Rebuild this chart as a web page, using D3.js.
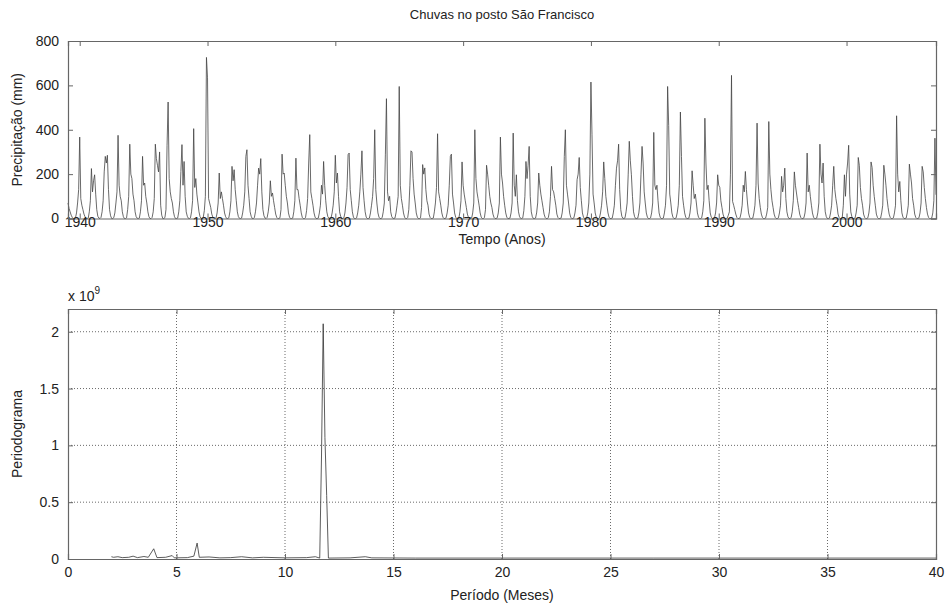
<!DOCTYPE html>
<html>
<head>
<meta charset="utf-8">
<script src="https://cdn.jsdelivr.net/npm/d3@7"></script>
<style>
  body { margin: 0; background: #fff; }
  svg text { font-family: "Liberation Sans", Arial, sans-serif; fill: #222; }
</style>
</head>
<body>
<div id="chart"></div>
<script>
// chuva mensal (mm), jan..dez, 1939-2006
let anos = d3.range(1939, 2007);
let chuva = [
  [70,45,30,15,5,0,0,3,25,70,130,367],
  [90,60,40,20,8,0,0,2,30,80,225,120],
  [170,197,110,40,10,2,0,5,30,80,210,280],
  [250,285,130,40,12,0,0,4,25,70,120,375],
  [150,100,80,30,8,0,0,3,40,100,335,200],
  [180,110,80,30,8,1,0,2,30,80,280,150],
  [160,100,70,30,8,0,0,5,30,90,335,270],
  [240,210,300,60,15,0,0,4,40,330,525,180],
  [120,90,70,30,8,0,0,2,30,80,212,333],
  [150,257,100,30,10,1,0,3,30,80,405,140],
  [180,110,70,30,8,0,0,5,35,100,726,634],
  [90,70,50,20,6,0,0,2,25,70,205,90],
  [120,90,60,25,8,0,0,3,30,80,235,170],
  [220,130,80,30,8,1,0,2,25,60,120,280],
  [310,150,90,30,10,0,0,4,30,70,150,227],
  [200,270,120,40,12,2,0,5,30,70,170,100],
  [115,80,50,20,5,0,0,3,40,290,200,205],
  [150,100,70,25,6,0,0,2,30,80,272,130],
  [130,90,60,25,5,0,0,4,35,90,250,378],
  [120,90,60,25,6,0,0,2,25,60,150,110],
  [257,150,80,30,8,1,0,3,25,60,120,285],
  [160,205,100,30,10,0,0,2,25,70,140,288],
  [295,130,80,30,6,0,0,3,25,60,120,200],
  [305,140,80,30,6,0,0,2,25,60,100,180],
  [400,130,70,25,6,0,0,4,30,70,290,540],
  [120,80,100,30,8,1,0,2,25,60,100,595],
  [150,90,60,25,6,0,0,5,40,150,305,300],
  [180,110,70,25,6,0,0,3,50,243,200,228],
  [130,80,60,20,5,0,0,2,30,70,140,382],
  [120,90,60,25,6,0,0,3,25,60,150,280],
  [290,110,70,25,6,0,0,2,30,80,255,150],
  [110,80,50,20,5,0,0,2,25,70,400,180],
  [120,90,60,25,6,0,0,4,40,240,200,150],
  [100,70,50,20,5,0,0,3,25,70,367,200],
  [160,100,60,25,6,0,0,2,25,70,385,150],
  [100,197,80,30,8,1,0,3,35,100,257,180],
  [240,325,100,30,8,0,0,2,25,70,205,150],
  [110,80,50,20,5,0,0,4,30,100,235,130],
  [120,90,60,20,5,0,0,2,25,70,280,400],
  [150,110,70,25,6,0,0,3,25,60,175,200],
  [275,140,80,25,6,0,0,2,25,70,200,615],
  [380,110,70,25,6,0,0,3,25,60,120,255],
  [180,100,60,25,6,0,0,2,25,60,150,227],
  [260,335,130,40,10,1,0,3,30,70,200,348],
  [260,197,100,30,8,0,0,2,25,70,200,325],
  [250,120,70,25,6,0,0,3,25,70,388,150],
  [130,150,80,25,6,0,0,2,25,60,150,595],
  [420,110,70,25,6,0,0,3,25,60,150,480],
  [280,100,60,25,6,0,0,2,25,70,215,150],
  [90,110,70,25,6,0,0,3,30,80,452,250],
  [130,150,80,25,6,0,0,2,25,70,197,150],
  [140,80,50,20,5,0,0,2,15,30,200,645],
  [77,60,40,20,5,0,0,3,25,60,150,120],
  [212,130,70,25,6,0,0,2,25,60,150,430],
  [160,90,50,20,5,0,0,2,20,50,437,200],
  [130,80,50,20,5,0,0,3,25,60,190,120],
  [150,227,90,30,8,0,0,4,30,80,210,150],
  [115,80,50,20,5,0,0,3,25,70,295,120],
  [150,100,60,25,6,0,0,2,25,70,335,200],
  [160,250,100,30,8,0,0,2,25,60,150,235],
  [130,90,60,20,5,0,0,5,60,197,100,200],
  [250,330,110,30,8,0,0,2,25,60,275,240],
  [140,90,60,20,5,0,0,3,25,70,255,230],
  [150,100,60,20,5,0,0,2,25,60,240,200],
  [150,90,50,20,5,0,0,3,25,60,463,200],
  [120,167,80,25,6,0,0,2,25,60,245,200],
  [160,90,60,20,5,0,0,3,25,70,235,210],
  [140,90,50,20,5,0,0,2,25,80,362,107]
];

// periodograma: periodo (meses) e valor (x 10^9)
let periodos = [2,2.1,2.3,2.5,2.8,3.0,3.2,3.5,3.7,3.95,4.1,4.5,4.8,4.9,5.5,5.8,5.95,6.05,6.5,7,7.5,8,8.5,9,10,11,11.4,11.6,11.68,11.76,11.84,11.92,12.0,13,13.7,14,16,20,27,40];
let potencia = [.02,.015,.02,.012,.015,.025,.012,.022,.015,.09,.012,.015,.03,.01,.012,.025,.14,.015,.018,.01,.012,.02,.01,.015,.01,.012,.02,.008,.88,2.07,1.07,.56,.008,.01,.02,.01,.008,.008,.008,.008];

let yTicksTop = [0,200,400,600,800];
let xTicksTop = [1940,1950,1960,1970,1980,1990,2000];
let xTicksBot = [0,5,10,15,20,25,30,35,40];
let yTicksBot = [0,0.5,1,1.5,2];

let W = 946, H = 605;
let svg = d3.select("#chart").append("svg").attr("width", W).attr("height", H);

let serie = [];
anos.forEach((a, i) => {
    chuva[i].forEach((v, m) => serie.push({t: a + (m + 1) / 12, v: v}));
});

// ---- grafico de cima
let top1 = {l: 68, r: 936, t: 41, b: 218.5};
let x1 = d3.scaleLinear().domain([1939 + 1/12, 2007]).range([top1.l, top1.r]);
let y1 = d3.scaleLinear().domain([0, 800]).range([top1.b, top1.t]);

let g1 = svg.append("g");
g1.append("path")
    .datum(serie)
    .attr("d", d3.line().x(d => x1(d.t)).y(d => y1(d.v)))
    .attr("fill", "none")
    .attr("stroke", "#444")
    .attr("stroke-width", 0.8);

caixa(g1, top1, x1, y1, xTicksTop, yTicksTop, -1);

g1.append("text").attr("x", 502).attr("y", 19).attr("text-anchor", "middle")
    .attr("font-size", 13).text("Chuvas no posto São Francisco");
g1.append("text").attr("x", 502).attr("y", 244).attr("text-anchor", "middle")
    .attr("font-size", 14).text("Tempo (Anos)");
g1.append("text").attr("transform", "translate(22," + (top1.t + top1.b) / 2 + ") rotate(-90)")
    .attr("text-anchor", "middle").attr("font-size", 14).text("Precipitação (mm)");

// ---- periodograma
let bot = {l: 68, r: 936, t: 309, b: 559};
let x2 = d3.scaleLinear().domain([0, 40]).range([bot.l, bot.r]);
let y2 = d3.scaleLinear().domain([0, 2.2]).range([bot.b, bot.t]);

let g2 = svg.append("g");
// grade pontilhada
g2.selectAll(".gx").data(xTicksBot.slice(1, -1)).enter().append("line")
    .attr("x1", d => x2(d)).attr("x2", d => x2(d))
    .attr("y1", bot.t).attr("y2", bot.b)
    .attr("stroke", "#444").attr("stroke-width", 0.8).attr("stroke-dasharray", "1,2");
g2.selectAll(".gy").data(yTicksBot.slice(1)).enter().append("line")
    .attr("x1", bot.l).attr("x2", bot.r)
    .attr("y1", d => y2(d)).attr("y2", d => y2(d))
    .attr("stroke", "#444").attr("stroke-width", 0.8).attr("stroke-dasharray", "1,2");

g2.append("path")
    .datum(periodos.map((p, i) => [p, potencia[i]]))
    .attr("d", d3.line().x(d => x2(d[0])).y(d => y2(d[1])))
    .attr("fill", "none")
    .attr("stroke", "#333")
    .attr("stroke-width", 0.8);

caixa(g2, bot, x2, y2, xTicksBot, yTicksBot, 8);

let exp = g2.append("text").attr("x", 68).attr("y", 301).attr("font-size", 14);
exp.append("tspan").text("x 10");
exp.append("tspan").attr("dy", -7).attr("font-size", 10).text("9");

g2.append("text").attr("x", 502).attr("y", 600).attr("text-anchor", "middle")
    .attr("font-size", 14).text("Período (Meses)");
g2.append("text").attr("transform", "translate(22," + (bot.t + bot.b) / 2 + ") rotate(-90)")
    .attr("text-anchor", "middle").attr("font-size", 14).text("Periodograma");

function caixa(g, m, x, y, xt, yt, padX) {
    let tk = 5;
    let ax = g.append("g").attr("transform", "translate(0," + m.b + ")")
        .call(d3.axisBottom(x).tickValues(xt).tickSize(-tk).tickPadding(padX).tickFormat(d3.format("")));
    let axt = g.append("g").attr("transform", "translate(0," + m.t + ")")
        .call(d3.axisTop(x).tickValues(xt).tickSize(-tk).tickFormat(""));
    let ay = g.append("g").attr("transform", "translate(" + m.l + ",0)")
        .call(d3.axisLeft(y).tickValues(yt).tickSize(-tk).tickPadding(9).tickFormat(d3.format("")));
    let ayr = g.append("g").attr("transform", "translate(" + m.r + ",0)")
        .call(d3.axisRight(y).tickValues(yt).tickSize(-tk).tickFormat(""));
    [ax, axt, ay, ayr].forEach(a => {
        a.select(".domain").attr("stroke", "#666").attr("stroke-width", 1.2);
        a.selectAll(".tick line").attr("stroke", "#666");
        a.selectAll("text").attr("font-size", 14).attr("fill", "#222")
            .attr("font-family", "'Liberation Sans', Arial, sans-serif");
    });
}
</script>
</body>
</html>
